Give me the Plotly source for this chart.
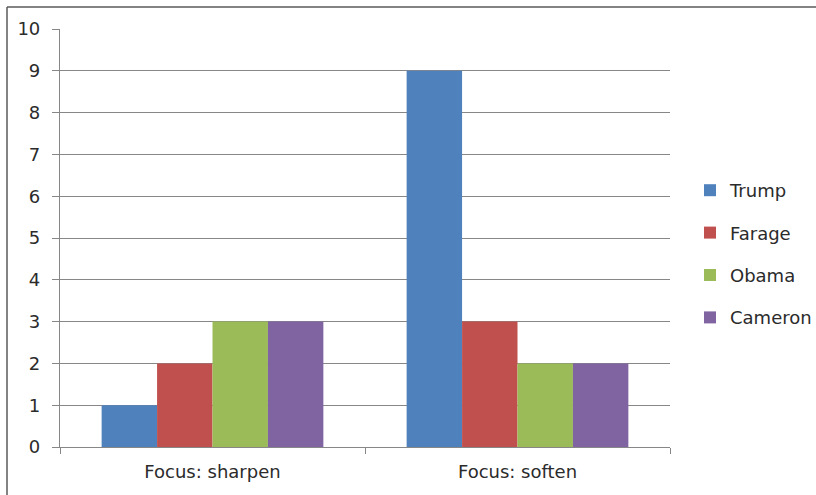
import plotly.graph_objects as go

categories = ["Focus: sharpen", "Focus: soften"]
series_names = ["Trump", "Farage", "Obama", "Cameron"]
trump = [1, 9]
farage = [2, 3]
obama = [3, 2]
cameron = [3, 2]
series_values = [trump, farage, obama, cameron]
colors = ["#4F81BD", "#C0504D", "#9BBB59", "#8064A2"]

W, H = 816, 495
L, R, T, B = 60, 146, 29, 48
pw, ph = W - L - R, H - T - B

FAMILY = "DejaVu Sans, Verdana, sans-serif"
TEXT = "#2b2b2b"

fig = go.Figure()
for name, vals, col in zip(series_names, series_values, colors):
    fig.add_trace(go.Bar(
        name=name, x=categories, y=vals, marker=dict(color=col, line=dict(width=0)),
        legendgroup=name,
    ))

grid = "#878787"


def px_x(p):
    return (p - L) / pw


def px_y(p):
    return (H - B - p) / ph


# chart frame: top and left edges run off the page
frame = dict(color="#5a5a5a", width=1.5)
fig.add_shape(type="line", xref="paper", yref="paper",
              x0=px_x(7), x1=px_x(W + 5), y0=px_y(7), y1=px_y(7), line=frame)
fig.add_shape(type="line", xref="paper", yref="paper",
              x0=px_x(7), x1=px_x(7), y0=px_y(7), y1=px_y(H + 5), line=frame)

fig.update_layout(
    width=W, height=H,
    margin=dict(l=L, r=R, t=T, b=B, autoexpand=False),
    paper_bgcolor="white", plot_bgcolor="white",
    barmode="group", bargap=0.273, bargroupgap=0,
    font=dict(family=FAMILY, size=18, color=TEXT),
    showlegend=True,
    legend=dict(x=px_x(690), y=px_y(172), xanchor="left", yanchor="top",
                font=dict(family=FAMILY, size=18, color=TEXT),
                tracegroupgap=16, itemwidth=30, bgcolor="rgba(0,0,0,0)"),
    xaxis=dict(showline=True, linecolor=grid, linewidth=1.2,
               ticks="outside", ticklen=6, tickcolor=grid, tickson="boundaries",
               showgrid=False, tickfont=dict(family=FAMILY, size=18, color=TEXT),
               ticklabelstandoff=8),
    yaxis=dict(range=[0, 10], dtick=1, showline=True, linecolor=grid, linewidth=1.2,
               ticks="outside", ticklen=7, tickcolor=grid,
               showgrid=True, gridcolor=grid, gridwidth=1.2, zeroline=False,
               tickfont=dict(family=FAMILY, size=18, color=TEXT),
               ticklabelstandoff=8),
)

fig.write_html("out.html")
